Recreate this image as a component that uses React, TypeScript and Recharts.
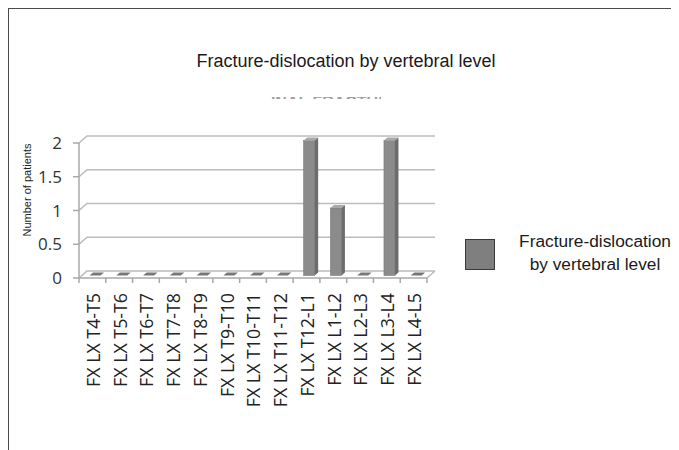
import React from "react";
import { BarChart, Bar, XAxis, YAxis, CartesianGrid, Legend } from "recharts";

const categories = [
  "FX LX T4-T5",
  "FX LX T5-T6",
  "FX LX T6-T7",
  "FX LX T7-T8",
  "FX LX T8-T9",
  "FX LX T9-T10",
  "FX LX T10-T11",
  "FX LX T11-T12",
  "FX LX T12-L1",
  "FX LX L1-L2",
  "FX LX L2-L3",
  "FX LX L3-L4",
  "FX LX L4-L5",
];
const patients = [0, 0, 0, 0, 0, 0, 0, 0, 2, 1, 0, 2, 0];
const yTicks = [0, 0.5, 1, 1.5, 2];
const seriesName = "Fracture-dislocation by vertebral level";
const chartTitle = "Fracture-dislocation by vertebral level";
const yAxisTitle = "Number of patients";

const data = categories.map((c, i) => ({ level: c, value: patients[i] }));

const W = 670;
const H = 441;
const MARGIN = { top: 134, right: 252, bottom: 22, left: 10 };
const Y_AXIS_W = 60;
const X_AXIS_H = 150;
const PLOT_LEFT = MARGIN.left + Y_AXIS_W;
const PLOT_RIGHT = W - MARGIN.right;
const PLOT_BOTTOM = H - MARGIN.bottom - X_AXIS_H;
const BAND = (PLOT_RIGHT - PLOT_LEFT) / categories.length;
const DEPTH_X = 8;
const DEPTH_Y = -7;

const GRID = "#bcbcbc";
const AXIS = "#a8a8a8";

const gridLine = (p: any) => {
  const { x1, x2, y1 } = p;
  let d = `M${x1},${y1} L${x1 + DEPTH_X},${y1 + DEPTH_Y} L${x2 + DEPTH_X},${y1 + DEPTH_Y}`;
  if (Math.abs(y1 - PLOT_BOTTOM) < 1) {
    d += ` M${x2},${y1} L${x2 + DEPTH_X},${y1 + DEPTH_Y}`;
  }
  return <path key={p.key ?? `g-${y1}`} d={d} stroke={GRID} strokeWidth={1.6} fill="none" />;
};

const Bar3D = (p: any) => {
  const { x, y, width, height } = p;
  const X = x + 2.5;
  const Y = y - 2.5;
  const w = width;
  const h = height;
  const dx = 3.5;
  const dy = -3;
  if (!h || h <= 0.5) {
    return (
      <polygon
        points={`${X},${Y} ${X + w},${Y} ${X + w + dx},${Y + dy} ${X + dx},${Y + dy}`}
        fill="#777"
      />
    );
  }
  return (
    <g>
      <rect x={X} y={Y} width={w} height={h} fill="#8b8b8b" stroke="#7a7a7a" strokeWidth={0.6} />
      <polygon
        points={`${X + w},${Y} ${X + w + dx},${Y + dy} ${X + w + dx},${Y + h + dy} ${X + w},${Y + h}`}
        fill="#6c6c6c"
      />
      <polygon
        points={`${X},${Y} ${X + dx},${Y + dy} ${X + w + dx},${Y + dy} ${X + w},${Y}`}
        fill="#a9a9a9"
      />
    </g>
  );
};

const XTick = (p: any) => {
  const { x, y, payload, index } = p;
  const left = x - BAND / 2;
  const right = x + BAND / 2;
  return (
    <g>
      <line x1={left} y1={PLOT_BOTTOM} x2={left} y2={PLOT_BOTTOM + 5} stroke={AXIS} strokeWidth={1.5} />
      {index === categories.length - 1 && (
        <line x1={right} y1={PLOT_BOTTOM} x2={right} y2={PLOT_BOTTOM + 5} stroke={AXIS} strokeWidth={1.5} />
      )}
      <text
        x={x + 1}
        y={y}
        transform={`rotate(-90 ${x + 1} ${y})`}
        textAnchor="end"
        dy="0.36em"
        fontFamily="'Open Sans', sans-serif"
        fontSize={17.8}
        fill="#222"
      >
        {payload.value}
      </text>
    </g>
  );
};

const YTick = (p: any) => {
  const { x, y, payload } = p;
  return (
    <text
      x={x}
      y={y}
      textAnchor="end"
      dy="0.36em"
      fontFamily="'Open Sans', sans-serif"
      fontSize={17}
      fill="#333"
    >
      {payload.value}
    </text>
  );
};

const LegendBox = (p: any) => {
  const name = (p.payload && p.payload[0] && p.payload[0].value) || seriesName;
  const words = String(name).split(" ");
  const line1 = words[0];
  const line2 = words.slice(1).join(" ");
  return (
    <svg width={214} height={50} style={{ display: "block", overflow: "visible" }}>
      <rect x={0.5} y={4.5} width={29} height={30} fill="#7f7f7f" stroke="#3a3a3a" strokeWidth={1} />
      <text x={130} y={12} textAnchor="middle" fontFamily="'Liberation Sans', Arial, sans-serif" fontSize={17.3} fill="#1a1a1a">
        {line1}
      </text>
      <text x={130} y={35} textAnchor="middle" fontFamily="'Liberation Sans', Arial, sans-serif" fontSize={17.3} fill="#1a1a1a">
        {line2}
      </text>
    </svg>
  );
};

export default function App() {
  return (
    <div
      style={{
        position: "relative",
        width: W,
        height: H,
        borderTop: "1px solid #4a4a4a",
        borderLeft: "1px solid #4a4a4a",
        background: "#fff",
      }}
    >
      <BarChart width={W} height={H} data={data} margin={MARGIN} barSize={11}>
        <CartesianGrid horizontal={gridLine} vertical={false} />
        <XAxis
          dataKey="level"
          interval={0}
          height={X_AXIS_H}
          axisLine={{ stroke: AXIS, strokeWidth: 1.5 }}
          tickLine={false}
          tickSize={5}
          tickMargin={10}
          tick={XTick}
        />
        <YAxis
          width={Y_AXIS_W}
          domain={[0, 2]}
          ticks={yTicks}
          axisLine={{ stroke: AXIS, strokeWidth: 1.5 }}
          tickLine={{ stroke: AXIS, strokeWidth: 1.5 }}
          tickSize={6}
          tickMargin={11}
          tick={YTick}
          label={{
            content: () => (
              <text
                x={18}
                y={181}
                transform="rotate(-90 18 181)"
                textAnchor="middle"
                dominantBaseline="central"
                fontFamily="'Liberation Sans', Arial, sans-serif"
                fontSize={11}
                fill="#222"
              >
                {yAxisTitle}
              </text>
            ),
          }}
        />
        <Legend
          layout="vertical"
          align="center"
          verticalAlign="middle"
          wrapperStyle={{ position: "absolute", left: 456, top: 226, width: 214, height: 50 }}
          content={LegendBox}
        />
        <Bar dataKey="value" name={seriesName} fill="#8b8b8b" shape={Bar3D} isAnimationActive={false} />
      </BarChart>
      <svg
        width={W}
        height={H}
        style={{ position: "absolute", left: 0, top: 0, pointerEvents: "none" }}
      >
        <defs>
          <clipPath id="faint-clip">
            <rect x={262} y={88} width={110} height={2} />
          </clipPath>
        </defs>
        <text
          x={316}
          y={58}
          dx={21}
          textAnchor="middle"
          fontFamily="'Liberation Sans', Arial, sans-serif"
          fontSize={18}
          fill="#1a1a1a"
        >
          {chartTitle}
        </text>
        <text
          x={316}
          y={99}
          textAnchor="middle"
          fontFamily="'Liberation Sans', Arial, sans-serif"
          fontWeight="bold"
          fontSize={16}
          fill="#a0a0a0"
          clipPath="url(#faint-clip)"
        >
          SPINAL FRACTURE
        </text>
      </svg>
    </div>
  );
}
